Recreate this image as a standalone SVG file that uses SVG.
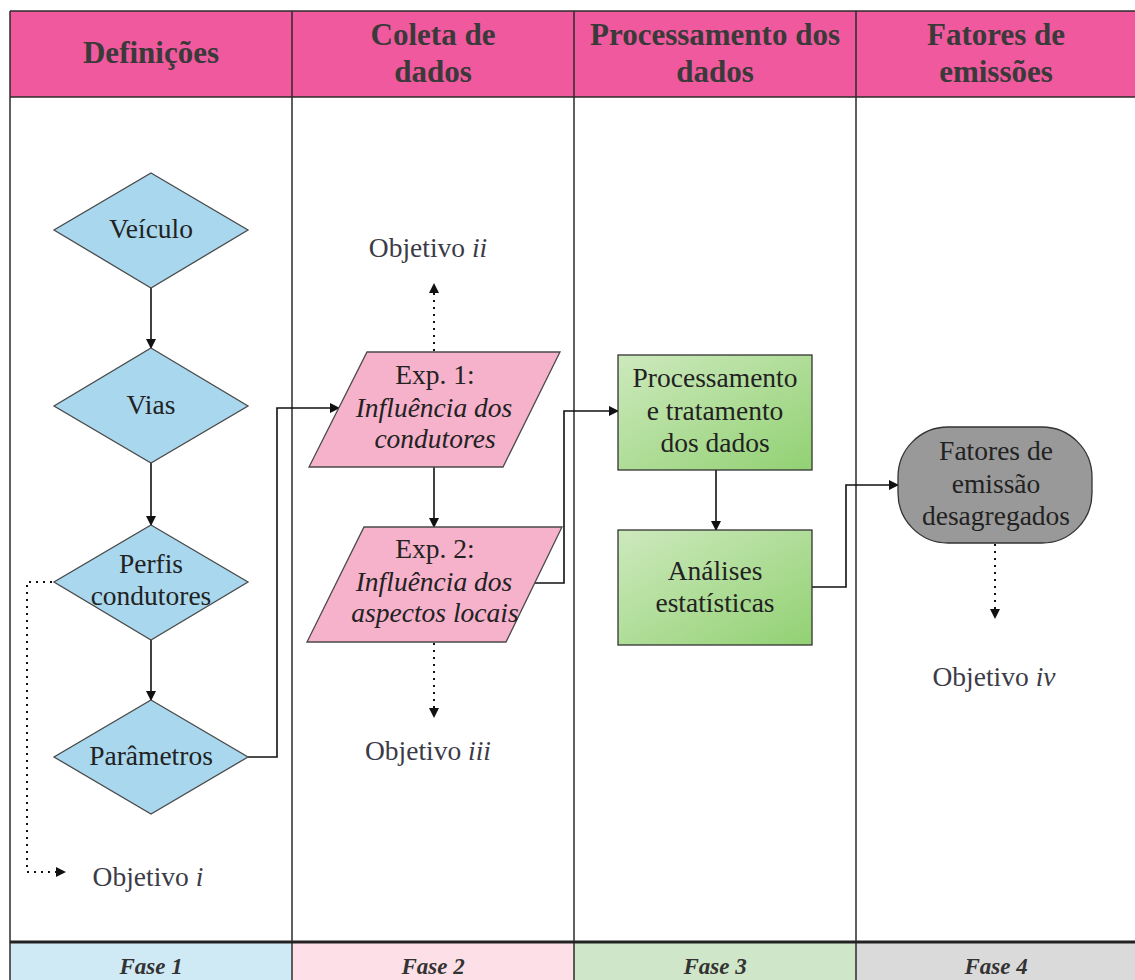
<svg xmlns="http://www.w3.org/2000/svg" width="1135" height="980" viewBox="0 0 1135 980">
  <defs>
    <marker id="arrow" viewBox="0 0 10 10" refX="9" refY="5" markerWidth="10" markerHeight="10" markerUnits="userSpaceOnUse" orient="auto">
      <path d="M0,0 L10,5 L0,10 Z" fill="#111"/>
    </marker>
    <linearGradient id="greenFill" x1="0" y1="0" x2="1" y2="1">
      <stop offset="0" stop-color="#cde9bd"/>
      <stop offset="1" stop-color="#92d173"/>
    </linearGradient>
    <style>
      .grid { stroke: #2b2b2b; stroke-width: 1.5; fill: none; }
      text { font-family: 'Liberation Serif', 'DejaVu Serif', serif; }
      .head { font-weight: bold; font-size: 31px; fill: #3a3a3a; text-anchor: middle; }
      .foot { font-weight: bold; font-style: italic; font-size: 23px; fill: #333; text-anchor: middle; }
      .lbl { font-size: 27.5px; fill: #222; text-anchor: middle; }
      .obj { font-size: 27.5px; fill: #3b3b48; text-anchor: middle; }
      .diamond { fill: #a9d8ee; stroke: #4a4a4a; stroke-width: 1.3; }
      .para { fill: #f6b1cb; stroke: #4a4a4a; stroke-width: 1.3; }
      .box { fill: url(#greenFill); stroke: #333; stroke-width: 1.3; }
      .term { fill: #999999; stroke: #333; stroke-width: 1.3; }
      .link { stroke: #111; stroke-width: 1.6; fill: none; }
      .dots { stroke: #111; stroke-width: 2; fill: none; stroke-dasharray: 2 5; }
    </style>
  </defs>

  <rect width="1135" height="980" fill="#ffffff"/>

  <!-- swimlane table -->
  <g id="table">
    <rect x="10" y="11" width="1130" height="86" fill="#f0599d"/>
    <rect x="10" y="943" width="282" height="40" fill="#d0eaf5"/>
    <rect x="292" y="943" width="282" height="40" fill="#fde0e7"/>
    <rect x="574" y="943" width="282" height="40" fill="#cfe6c8"/>
    <rect x="856" y="943" width="284" height="40" fill="#dadada"/>
    <line class="grid" x1="10" y1="11" x2="1140" y2="11"/>
    <line class="grid" x1="10" y1="97" x2="1140" y2="97"/>
    <line class="grid" x1="10" y1="11" x2="10" y2="983"/>
    <line class="grid" x1="292" y1="11" x2="292" y2="983"/>
    <line class="grid" x1="574" y1="11" x2="574" y2="983"/>
    <line class="grid" x1="856" y1="11" x2="856" y2="983"/>
    <line x1="10" y1="942" x2="1140" y2="942" stroke="#222" stroke-width="3"/>
    <text class="head" x="151" y="63">Definições</text>
    <text class="head" x="433" y="45">Coleta de</text>
    <text class="head" x="433" y="82">dados</text>
    <text class="head" x="715" y="45">Processamento dos</text>
    <text class="head" x="715" y="82">dados</text>
    <text class="head" x="996" y="45">Fatores de</text>
    <text class="head" x="996" y="82">emissões</text>
    <text class="foot" x="151" y="974">Fase 1</text>
    <text class="foot" x="433" y="974">Fase 2</text>
    <text class="foot" x="715" y="974">Fase 3</text>
    <text class="foot" x="996" y="974">Fase 4</text>
  </g>

  <!-- connectors -->
  <g id="connectors">
    <line class="link" x1="151" y1="288" x2="151" y2="348" marker-end="url(#arrow)"/>
    <line class="link" x1="151" y1="463" x2="151" y2="525" marker-end="url(#arrow)"/>
    <line class="link" x1="151" y1="640" x2="151" y2="700" marker-end="url(#arrow)"/>
    <polyline class="link" points="248,757 277,757 277,408 339,408" marker-end="url(#arrow)"/>
    <line class="link" x1="434" y1="467" x2="434" y2="527" marker-end="url(#arrow)"/>
    <polyline class="link" points="534,583 564,583 564,411 618,411" marker-end="url(#arrow)"/>
    <line class="link" x1="716" y1="470" x2="716" y2="530" marker-end="url(#arrow)"/>
    <polyline class="link" points="812,587 846,587 846,485 898,485" marker-end="url(#arrow)"/>
    <line class="dots" x1="434" y1="351" x2="434" y2="284" marker-end="url(#arrow)"/>
    <line class="dots" x1="434" y1="643" x2="434" y2="717" marker-end="url(#arrow)"/>
    <line class="dots" x1="995" y1="544" x2="995" y2="618" marker-end="url(#arrow)"/>
    <polyline class="dots" points="52,582 27,582 27,872 65,872" marker-end="url(#arrow)"/>
  </g>

  <!-- phase 1: definitions -->
  <g id="veiculo">
    <polygon class="diamond" points="151,173 248,230 151,288 54,230"/>
    <text class="lbl" x="151" y="238">Veículo</text>
  </g>
  <g id="vias">
    <polygon class="diamond" points="151,348 248,406 151,463 54,406"/>
    <text class="lbl" x="151" y="414">Vias</text>
  </g>
  <g id="perfis">
    <polygon class="diamond" points="151,525 248,582 151,640 54,582"/>
    <text class="lbl" x="151" y="573">Perfis</text>
    <text class="lbl" x="151" y="605">condutores</text>
  </g>
  <g id="parametros">
    <polygon class="diamond" points="151,700 248,757 151,814 54,757"/>
    <text class="lbl" x="151" y="765">Parâmetros</text>
  </g>
  <g id="objetivo-i">
    <text class="obj" x="148" y="886">Objetivo <tspan font-style="italic">i</tspan></text>
  </g>

  <!-- phase 2: data collection -->
  <g id="objetivo-ii">
    <text class="obj" x="428" y="257">Objetivo <tspan font-style="italic">ii</tspan></text>
  </g>
  <g id="exp1">
    <polygon class="para" points="367,352 560,352 503,467 309,467"/>
    <text class="lbl" x="435" y="384">Exp. 1:</text>
    <text class="lbl" x="434" y="417" font-style="italic">Influência dos</text>
    <text class="lbl" x="435" y="448" font-style="italic">condutores</text>
  </g>
  <g id="exp2">
    <polygon class="para" points="364,527 562,527 506,642 307,642"/>
    <text class="lbl" x="435" y="558">Exp. 2:</text>
    <text class="lbl" x="434" y="591" font-style="italic">Influência dos</text>
    <text class="lbl" x="435" y="622" font-style="italic">aspectos locais</text>
  </g>
  <g id="objetivo-iii">
    <text class="obj" x="428" y="760">Objetivo <tspan font-style="italic">iii</tspan></text>
  </g>

  <!-- phase 3: data processing -->
  <g id="processamento">
    <rect class="box" x="618" y="355" width="194" height="115"/>
    <text class="lbl" x="715" y="387">Processamento</text>
    <text class="lbl" x="715" y="420">e tratamento</text>
    <text class="lbl" x="715" y="452">dos dados</text>
  </g>
  <g id="analises">
    <rect class="box" x="618" y="530" width="194" height="115"/>
    <text class="lbl" x="715" y="580">Análises</text>
    <text class="lbl" x="715" y="612">estatísticas</text>
  </g>

  <!-- phase 4: emission factors -->
  <g id="fatores">
    <rect class="term" x="898" y="427" width="194" height="116" rx="50" ry="50"/>
    <text class="lbl" x="996" y="460">Fatores de</text>
    <text class="lbl" x="996" y="493">emissão</text>
    <text class="lbl" x="996" y="525">desagregados</text>
  </g>
  <g id="objetivo-iv">
    <text class="obj" x="994" y="686">Objetivo <tspan font-style="italic">iv</tspan></text>
  </g>
</svg>
